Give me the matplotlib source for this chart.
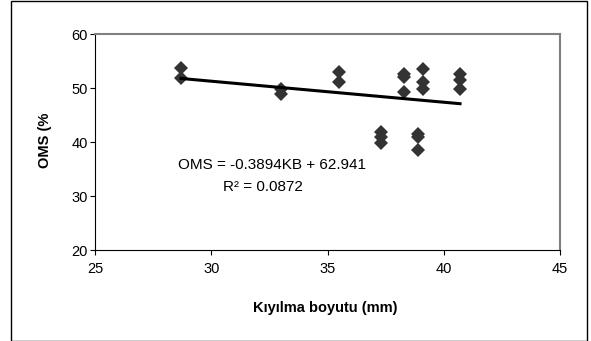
import matplotlib
matplotlib.use("Agg")
import matplotlib.pyplot as plt
from matplotlib.patches import Rectangle

plt.rcParams['font.family'] = ['Liberation Sans', 'DejaVu Sans']

# Data
kb = [28.7, 28.7, 33.0, 33.0, 35.5, 35.5, 37.3, 37.3, 37.3,
      38.3, 38.3, 38.3, 38.9, 38.9, 38.9, 39.1, 39.1, 39.1,
      40.7, 40.7, 40.7]
oms = [53.7, 51.8, 49.9, 48.8, 52.9, 51.1, 41.9, 40.9, 39.9,
       52.6, 52.0, 49.2, 41.4, 41.0, 38.5, 53.6, 51.1, 49.9,
       52.6, 51.5, 49.9]
slope = -0.3894
intercept = 62.941
r2 = 0.0872
fit_x = [28.7, 40.7]
x_ticks = [25, 30, 35, 40, 45]
y_ticks = [20, 30, 40, 50, 60]

fig = plt.figure(figsize=(5.91, 3.41), dpi=100)
ax = fig.add_axes([95/591, 1-250/341, 465/591, 216/341])

ax.plot(kb, oms, linestyle='none', marker='D', markersize=7.6,
        color='#333333', markeredgewidth=0, zorder=3)
ax.plot(fit_x, [slope*x + intercept for x in fit_x], color='black',
        linewidth=2.2, zorder=4)

ax.set_xlim(25, 45)
ax.set_ylim(20, 60)
ax.set_xticks(x_ticks)
ax.set_yticks(y_ticks)
ax.tick_params(direction='out', length=3.8, width=0.8, labelsize=10.5,
               colors='black')
ax.tick_params(axis='y', pad=1.5)
ax.tick_params(axis='x', pad=5)
for s in ['left', 'bottom']:
    ax.spines[s].set_color('black')
    ax.spines[s].set_linewidth(0.8)
for s in ['top', 'right']:
    ax.spines[s].set_color('#808080')
    ax.spines[s].set_linewidth(1.5)

ax.text(32.63, 35.8, f'OMS = {slope}KB + {intercept}', ha='center',
        va='center', fontsize=11)
ax.text(32.23, 31.6, f'R² = {r2}', ha='center', va='center', fontsize=11)

fig.text(325/591, 1-308/341, 'Kıyılma boyutu (mm)', ha='center',
         va='center', fontsize=10.5, fontweight='bold')
fig.text(45/591, 1-140/341, 'OMS (%', ha='center', va='center',
         rotation=90, fontsize=10.5, fontweight='bold')

fig.patches.append(Rectangle((10.5/591, 0.5/341), 576.5/591, 339.5/341,
                             transform=fig.transFigure, fill=False,
                             edgecolor='black', linewidth=1))

fig.savefig('out.png', dpi=100)
